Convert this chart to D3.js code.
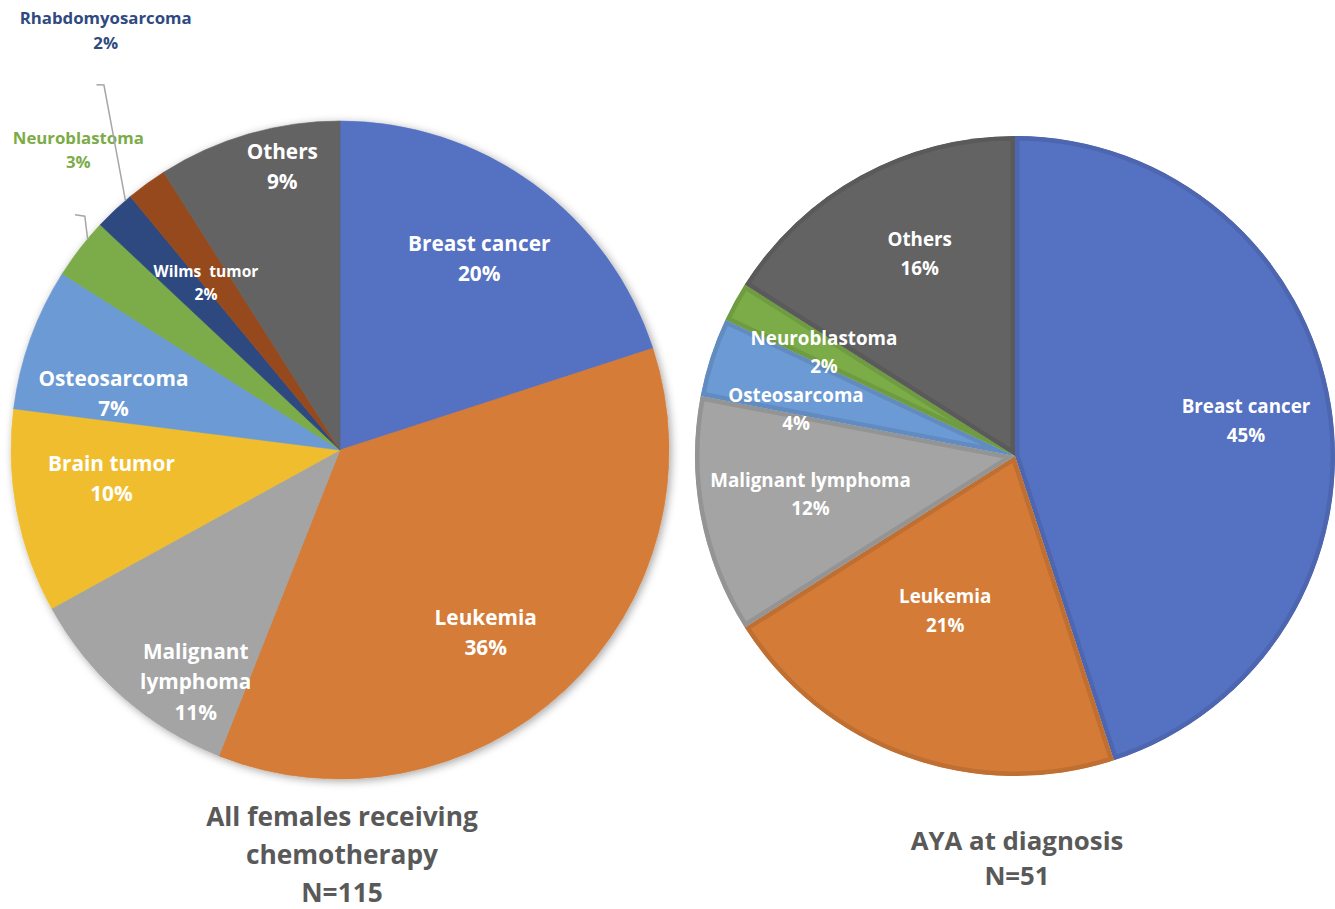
<!DOCTYPE html>
<html>
<head>
<meta charset="utf-8">
<script src="https://cdn.jsdelivr.net/npm/d3@7"></script>
<style>
  html, body { margin: 0; padding: 0; background: #ffffff; }
  svg { display: block; }
  text { font-family: "Open Sans", Lato, "DejaVu Sans", sans-serif; font-weight: 700; }
</style>
</head>
<body>
<svg id="chart" width="1335" height="909"></svg>
<script>
// ---------------- Data ----------------
const leftCategories = ["Breast cancer", "Leukemia", "Malignant lymphoma", "Brain tumor", "Osteosarcoma",
                        "Neuroblastoma", "Rhabdomyosarcoma", "Wilms tumor", "Others"];
const leftValues = [20, 36, 11, 10, 7, 3, 2, 2, 9];
const leftTitle = ["All females receiving", "chemotherapy", "N=115"];

const rightCategories = ["Breast cancer", "Leukemia", "Malignant lymphoma", "Osteosarcoma", "Neuroblastoma", "Others"];
const rightValues = [45, 21, 12, 4, 2, 16];
const rightTitle = ["AYA at diagnosis", "N=51"];

// ---------------- Styles ----------------
const colorMap = {
  "Breast cancer": "#5571c1",
  "Leukemia": "#d47b38",
  "Malignant lymphoma": "#a4a4a4",
  "Brain tumor": "#f0bd2e",
  "Osteosarcoma": "#6c9ad4",
  "Neuroblastoma": "#7bac48",
  "Rhabdomyosarcoma": "#2f4a80",
  "Wilms tumor": "#954a1c",
  "Others": "#636363"
};

// label placement: angle offset from slice mid-angle (deg), radius fraction, line breaks, font size, line spacing
const leftLabelLayout = {
  "Breast cancer":      { da: 0,    r: 0.72, lines: ["Breast cancer"], fs: 20.8, lh: 30 },
  "Leukemia":           { da: 4.6,  r: 0.71, lines: ["Leukemia"], fs: 20.8, lh: 30 },
  "Malignant lymphoma": { da: -9.5, r: 0.83, lines: ["Malignant", "lymphoma"], fs: 20.8, lh: 30.5 },
  "Brain tumor":        { da: 3.8,  r: 0.70, lines: ["Brain tumor"], fs: 20.8, lh: 30 },
  "Osteosarcoma":       { da: -5.7, r: 0.71, lines: ["Osteosarcoma"], fs: 20.8, lh: 30 },
  "Neuroblastoma":      { da: 11.1, r: 1.21, lines: ["Neuroblastoma"], fs: 16.8, lh: 24, outside: true,
                          leader: [[311.6, 1.077], [312.5, 1.052], [309.9, 1.0]] },
  "Rhabdomyosarcoma":   { da: 14,   r: 1.46, lines: ["Rhabdomyosarcoma"], fs: 16.8, lh: 25, outside: true,
                          leader: [[326.3, 1.334], [327.1, 1.321], [319.3, 1.0]] },
  "Wilms tumor":        { da: -2.8, r: 0.65, lines: ["Wilms  tumor"], fs: 15.6, lh: 23 },
  "Others":             { da: 4.7,  r: 0.88, lines: ["Others"], fs: 20.8, lh: 30 }
};
const rightLabelLayout = {
  "Breast cancer":      { da: 0.4,  r: 0.73, lines: ["Breast cancer"], fs: 18.8, lh: 29 },
  "Leukemia":           { da: 4.5,  r: 0.53, lines: ["Leukemia"], fs: 18.8, lh: 29 },
  "Malignant lymphoma": { da: 0.2,  r: 0.65, lines: ["Malignant lymphoma"], fs: 18.8, lh: 28.5 },
  "Osteosarcoma":       { da: -5.9, r: 0.70, lines: ["Osteosarcoma"], fs: 18.8, lh: 28 },
  "Neuroblastoma":      { da: -0.2, r: 0.68, lines: ["Neuroblastoma"], fs: 18.8, lh: 28 },
  "Others":             { da: 3.6,  r: 0.70, lines: ["Others"], fs: 18.8, lh: 29 }
};

const svg = d3.select("#chart");
const defs = svg.append("defs");
const shadow = defs.append("filter").attr("id", "pieShadow")
  .attr("x", "-10%").attr("y", "-10%").attr("width", "120%").attr("height", "120%");
shadow.append("feDropShadow").attr("dx", 2).attr("dy", 2).attr("stdDeviation", 4)
  .attr("flood-color", "#000").attr("flood-opacity", 0.35);

const rad = d => d * Math.PI / 180;
function polar(cx, cy, angDeg, r) {
  return [cx + r * Math.sin(rad(angDeg)), cy - r * Math.cos(rad(angDeg))];
}

function drawPie(opts) {
  const { cats, vals, cx, cy, R, layout, bordered, id, title, titleY, titleLH, titleFS } = opts;
  const data = cats.map((c, i) => ({ name: c, value: vals[i] }));
  const pie = d3.pie().value(d => d.value).sort(null).startAngle(0).endAngle(2 * Math.PI);
  const arcs = pie(data);
  const arc = d3.arc().innerRadius(0).outerRadius(R);

  const g = svg.append("g").attr("transform", `translate(${cx},${cy})`);
  const slices = g.append("g");
  if (!bordered) slices.attr("filter", "url(#pieShadow)");

  arcs.forEach((a, i) => {
    const fill = colorMap[a.data.name];
    if (bordered) {
      const cid = `${id}-clip-${i}`;
      defs.append("clipPath").attr("id", cid).append("path").attr("d", arc(a));
      slices.append("path").attr("d", arc(a)).attr("fill", fill)
        .attr("stroke", d3.color(fill).darker(0.28)).attr("stroke-width", 9)
        .attr("clip-path", `url(#${cid})`);
    } else {
      slices.append("path").attr("d", arc(a)).attr("fill", fill)
        .attr("stroke", fill).attr("stroke-width", 0.6);
    }
  });

  // labels
  arcs.forEach(a => {
    const L = layout[a.data.name];
    if (!L) return;
    const mid = (a.startAngle + a.endAngle) / 2 * 180 / Math.PI;
    const [lx, ly] = polar(0, 0, mid + L.da, L.r * R);
    const lines = L.lines.concat([Math.round(a.data.value) + "%"]);
    const n = lines.length;
    const color = L.outside ? colorMap[a.data.name] : "#ffffff";
    lines.forEach((t, i) => {
      g.append("text")
        .attr("x", lx)
        .attr("y", ly + (i - (n - 1) / 2) * L.lh)
        .attr("dy", "0.36em")
        .attr("text-anchor", "middle")
        .attr("font-size", L.fs)
        .attr("fill", color)
        .style("white-space", "pre")
        .text(t);
    });
    if (L.leader) {
      const pts = L.leader.map(p => polar(0, 0, p[0], p[1] * R));
      g.append("path")
        .attr("d", d3.line()(pts))
        .attr("fill", "none")
        .attr("stroke", "#a6a6a6")
        .attr("stroke-width", 1.5);
    }
  });

  // title
  title.forEach((t, i) => {
    svg.append("text")
      .attr("x", cx + 2)
      .attr("y", titleY + i * titleLH)
      .attr("dy", "0.36em")
      .attr("text-anchor", "middle")
      .attr("font-size", titleFS)
      .attr("fill", "#595959")
      .text(t);
  });
}

drawPie({ cats: leftCategories, vals: leftValues, cx: 340, cy: 450, R: 329,
  layout: leftLabelLayout, bordered: false, id: "L",
  title: leftTitle, titleY: 817, titleLH: 38, titleFS: 26.3 });

drawPie({ cats: rightCategories, vals: rightValues, cx: 1015, cy: 456, R: 320,
  layout: rightLabelLayout, bordered: true, id: "R",
  title: rightTitle, titleY: 841, titleLH: 35, titleFS: 25.8 });
</script>
</body>
</html>
